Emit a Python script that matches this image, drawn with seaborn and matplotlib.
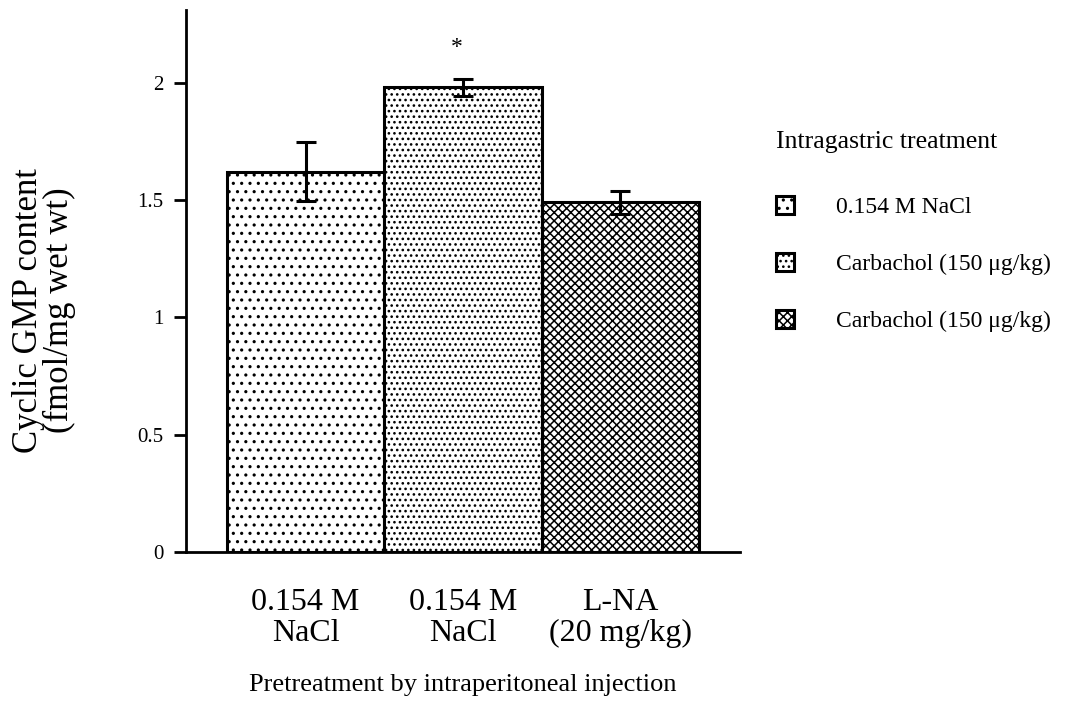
import matplotlib
matplotlib.use("Agg")
import matplotlib.pyplot as plt
import seaborn as sns
import pandas as pd
from matplotlib.patches import Patch

# Pretreatment groups (x categories) and their printed labels
groups = ["G1", "G2", "G3"]
group_labels = ["0.154 M\nNaCl", "0.154 M\nNaCl", "L-NA\n(20 mg/kg)"]

# Cyclic GMP content (fmol/mg wet wt): mean and SEM
cgmp_mean = [1.62, 1.98, 1.49]
cgmp_sem = [0.125, 0.035, 0.05]

# Intragastric treatment for each bar (legend entries)
treatments = ["0.154 M NaCl", "Carbachol (150 \u03bcg/kg)", "Carbachol (150 \u03bcg/kg)"]
hatches = ["..", "...", "xxxx"]

y_ticks = [0, 0.5, 1, 1.5, 2]
y_tick_labels = ["0", "0.5", "1", "1.5", "2"]

sns.set_style("ticks")
plt.rcParams["font.family"] = ["Liberation Serif", "DejaVu Serif"]
plt.rcParams["hatch.linewidth"] = 1.1
for key in ["text.color", "axes.labelcolor", "xtick.color", "ytick.color",
            "axes.edgecolor"]:
    plt.rcParams[key] = "black"

df = pd.DataFrame({"group": groups, "cgmp": cgmp_mean})

fig = plt.figure(figsize=(10.73, 7.2), dpi=100)
ax = fig.add_axes([0.1733, 0.2333, 0.5163, 0.753])

sns.barplot(data=df, x="group", y="cgmp", hue="group", palette=["white"] * 3,
            width=1.0, edgecolor="black", linewidth=2.2, saturation=1,
            errorbar=None, legend=False, ax=ax)
for patch, h in zip(ax.patches, hatches):
    patch.set_hatch(h)

ax.errorbar(x=list(range(len(groups))), y=cgmp_mean, yerr=cgmp_sem, fmt="none",
            ecolor="black", elinewidth=2.2, capsize=7, capthick=2.2, zorder=5)

# significance marker
ax.text(0.96, 2.15, "*", ha="center", va="center", fontsize=17, color="black")

ax.set_xlim(-0.76, 2.76)
ax.set_ylim(0, 2.31)
ax.set_yticks(y_ticks)
ax.set_yticklabels(y_tick_labels, fontsize=15)
ax.set_xticks(range(len(groups)))
ax.set_xticklabels(group_labels, fontsize=23, linespacing=1.08)
ax.tick_params(axis="x", length=0, pad=26, colors="black")
ax.set_xticks([1], minor=True)
ax.tick_params(axis="x", which="minor", length=8, width=2, direction="out",
               colors="black")
ax.tick_params(axis="y", length=9, width=2, direction="out", pad=7, colors="black")

for side in ["top", "right"]:
    ax.spines[side].set_visible(False)
for side in ["left", "bottom"]:
    ax.spines[side].set_linewidth(2)
    ax.spines[side].set_color("black")

ax.set_ylabel("Cyclic GMP content\n(fmol/mg wet wt)", fontsize=25, linespacing=0.92,
              color="black")
ax.yaxis.set_label_coords(-0.199, 0.446)
ax.set_xlabel("Pretreatment by intraperitoneal injection", fontsize=19, color="black")
ax.xaxis.set_label_coords(0.5, -0.225)
ax.xaxis.label.set_va("top")

handles = [Patch(facecolor="white", edgecolor="black", hatch=h, linewidth=2.2)
           for h in hatches]
leg = fig.legend(handles, treatments, title="Intragastric treatment",
                 loc="upper left", bbox_to_anchor=(776 / 1073, 1 - 131 / 720),
                 frameon=False, fontsize=17, title_fontsize=18.5,
                 handlelength=0.78, handleheight=0.78, handletextpad=1.75,
                 labelspacing=1.48, borderpad=0, borderaxespad=0,
                 alignment="left", labelcolor="black")
leg.get_title().set_color("black")
leg._legend_box.sep = 31

fig.savefig("out.png", dpi=100, facecolor="white")
